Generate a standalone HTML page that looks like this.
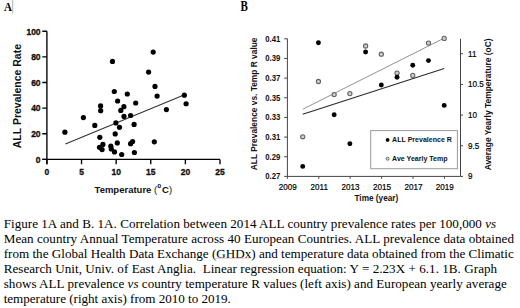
<!DOCTYPE html>
<html><head><meta charset="utf-8"><style>
html,body{margin:0;padding:0;background:#fff;}
body{width:520px;height:308px;overflow:hidden;}
svg{display:block;}
text{font-family:"Liberation Sans",sans-serif;}
.lab{font-family:"Liberation Serif",serif;font-weight:bold;font-size:11px;}
.at{font-weight:bold;font-size:8.5px;fill:#111;stroke:#111;stroke-width:0.3px;}
.atitle{font-weight:bold;font-size:9.5px;fill:#111;}
.aytitle{font-weight:bold;font-size:10.5px;fill:#111;}
.bt{font-weight:bold;font-size:7.8px;fill:#111;}
.br{font-size:8.1px;fill:#000;stroke:#000;stroke-width:0.18px;}
.btitle{font-weight:bold;font-size:8.25px;fill:#111;}
.bytitle{font-weight:bold;font-size:8.37px;fill:#111;}
.bytitle2{font-weight:bold;font-size:8.44px;fill:#111;}
.leg{font-weight:bold;font-size:7.05px;fill:#111;}
.cap{font-family:"Liberation Serif",serif;font-size:13.1px;fill:#000;}
</style></head><body>
<svg width="520" height="308" viewBox="0 0 520 308">
<text transform="translate(4 10.5) scale(1.0 1.22)" class="lab">A</text>
<line x1="12.7" y1="0" x2="12.7" y2="13.3" stroke="#b0b0b0" stroke-width="1"/>
<path d="M46.9 31.2V164.2M42.3 159.4H220" stroke="#000" stroke-width="1.35" fill="none"/>
<text transform="translate(40.6 162.7) scale(1.0 1.17)" class="at" text-anchor="end">0</text>
<text transform="translate(40.6 137.06) scale(1.0 1.17)" class="at" text-anchor="end">20</text>
<text transform="translate(40.6 111.42) scale(1.0 1.17)" class="at" text-anchor="end">40</text>
<text transform="translate(40.6 85.78) scale(1.0 1.17)" class="at" text-anchor="end">60</text>
<text transform="translate(40.6 60.14) scale(1.0 1.17)" class="at" text-anchor="end">80</text>
<text transform="translate(40.6 34.5) scale(1.0 1.17)" class="at" text-anchor="end">100</text>
<text transform="translate(46.9 175) scale(1.0 1.15)" class="at" text-anchor="middle">0</text>
<text transform="translate(81.52 175) scale(1.0 1.15)" class="at" text-anchor="middle">5</text>
<text transform="translate(116.14 175) scale(1.0 1.15)" class="at" text-anchor="middle">10</text>
<text transform="translate(150.76 175) scale(1.0 1.15)" class="at" text-anchor="middle">15</text>
<text transform="translate(185.38 175) scale(1.0 1.15)" class="at" text-anchor="middle">20</text>
<text transform="translate(220 175) scale(1.0 1.15)" class="at" text-anchor="middle">25</text>
<path d="M42.3 159.4H46.9M42.3 133.76H46.9M42.3 108.12H46.9M42.3 82.48H46.9M42.3 56.84H46.9M42.3 31.2H46.9M46.9 159.4V164.2M81.52 159.4V164.2M116.14 159.4V164.2M150.76 159.4V164.2M185.38 159.4V164.2M220 159.4V164.2" stroke="#000" stroke-width="1.35" fill="none"/>
<text transform="translate(133.3 193.3) scale(1.0 1.05)" class="atitle" text-anchor="middle">Temperature <tspan font-weight="normal">(</tspan><tspan font-size="6.5" dx="0.2" dy="-4.7">o</tspan><tspan dx="0.7" dy="4.7">C</tspan><tspan font-weight="normal">)</tspan></text>
<text transform="translate(21.2 96.1) rotate(-90)" class="aytitle" text-anchor="middle">ALL Prevalence Rate</text>
<line x1="65.4" y1="143.94" x2="183.9" y2="95.01" stroke="#333" stroke-width="1.1"/>
<circle cx="64.9" cy="132.2" r="2.6"/>
<circle cx="83.4" cy="117.6" r="2.6"/>
<circle cx="94.8" cy="125.4" r="2.6"/>
<circle cx="100.6" cy="105.9" r="2.6"/>
<circle cx="100.7" cy="110.7" r="2.6"/>
<circle cx="99.8" cy="137.3" r="2.6"/>
<circle cx="102.9" cy="144.4" r="2.6"/>
<circle cx="99.5" cy="147.3" r="2.6"/>
<circle cx="102.1" cy="149.6" r="2.6"/>
<circle cx="114.3" cy="91.5" r="2.6"/>
<circle cx="127.3" cy="94" r="2.6"/>
<circle cx="117.6" cy="101" r="2.6"/>
<circle cx="135.7" cy="103" r="2.6"/>
<circle cx="123.9" cy="106.7" r="2.6"/>
<circle cx="120.8" cy="110.4" r="2.6"/>
<circle cx="124" cy="116.4" r="2.6"/>
<circle cx="130.6" cy="115.5" r="2.6"/>
<circle cx="115.9" cy="122.9" r="2.6"/>
<circle cx="119.5" cy="127.3" r="2.6"/>
<circle cx="134.1" cy="124.4" r="2.6"/>
<circle cx="115.2" cy="133.9" r="2.6"/>
<circle cx="117.3" cy="142.9" r="2.6"/>
<circle cx="110.8" cy="146.2" r="2.6"/>
<circle cx="111.3" cy="149" r="2.6"/>
<circle cx="114.5" cy="151.9" r="2.6"/>
<circle cx="121.7" cy="154.5" r="2.6"/>
<circle cx="132.6" cy="141.5" r="2.6"/>
<circle cx="130.6" cy="143.7" r="2.6"/>
<circle cx="134.4" cy="152.5" r="2.6"/>
<circle cx="112.5" cy="61.4" r="2.6"/>
<circle cx="153.2" cy="52.1" r="2.6"/>
<circle cx="148.6" cy="72.1" r="2.6"/>
<circle cx="155" cy="86.4" r="2.6"/>
<circle cx="157.1" cy="96.1" r="2.6"/>
<circle cx="166.4" cy="109.6" r="2.6"/>
<circle cx="184.3" cy="95.2" r="2.6"/>
<circle cx="186.1" cy="103.75" r="2.6"/>
<circle cx="154.3" cy="141.8" r="2.6"/>
<text transform="translate(240.4 10.7) scale(1.0 1.25)" class="lab">B</text>
<text transform="translate(280.4 179.3) scale(1.0 1.1)" class="bt" text-anchor="end">0.27</text>
<text transform="translate(280.4 159.64) scale(1.0 1.1)" class="bt" text-anchor="end">0.29</text>
<text transform="translate(280.4 139.98) scale(1.0 1.1)" class="bt" text-anchor="end">0.31</text>
<text transform="translate(280.4 120.32) scale(1.0 1.1)" class="bt" text-anchor="end">0.33</text>
<text transform="translate(280.4 100.66) scale(1.0 1.1)" class="bt" text-anchor="end">0.35</text>
<text transform="translate(280.4 81) scale(1.0 1.1)" class="bt" text-anchor="end">0.37</text>
<text transform="translate(280.4 61.34) scale(1.0 1.1)" class="bt" text-anchor="end">0.39</text>
<text transform="translate(280.4 41.68) scale(1.0 1.1)" class="bt" text-anchor="end">0.41</text>
<text transform="translate(287.8 190.1) scale(1.0 1.1)" class="br" text-anchor="middle">2009</text>
<text transform="translate(319.2 190.1) scale(1.0 1.1)" class="br" text-anchor="middle">2011</text>
<text transform="translate(350.6 190.1) scale(1.0 1.1)" class="br" text-anchor="middle">2013</text>
<text transform="translate(382 190.1) scale(1.0 1.1)" class="br" text-anchor="middle">2015</text>
<text transform="translate(413.4 190.1) scale(1.0 1.1)" class="br" text-anchor="middle">2017</text>
<text transform="translate(444.8 190.1) scale(1.0 1.1)" class="br" text-anchor="middle">2019</text>
<text transform="translate(468 179.2) scale(1.0 1.1)" class="br">9</text>
<text transform="translate(468 148.54) scale(1.0 1.1)" class="br">9.5</text>
<text transform="translate(468 117.88) scale(1.0 1.1)" class="br">10</text>
<text transform="translate(468 87.22) scale(1.0 1.1)" class="br">10.5</text>
<text transform="translate(468 56.56) scale(1.0 1.1)" class="br">11</text>
<path d="M287.4 38.7V176.4H460.5V38.9M284.2 176.4H287.4M284.2 156.74H287.4M284.2 137.08H287.4M284.2 117.42H287.4M284.2 97.76H287.4M284.2 78.1H287.4M284.2 58.44H287.4M284.2 38.78H287.4M287.4 176.4V178.8M318.8 176.4V178.8M350.2 176.4V178.8M381.6 176.4V178.8M413 176.4V178.8M444.4 176.4V178.8M460.5 176.4H463M460.5 145.74H463M460.5 115.08H463M460.5 84.42H463M460.5 53.76H463" stroke="#444" stroke-width="1" fill="none"/>
<text transform="translate(376.4 200.9) scale(1.0 1.02)" class="btitle" text-anchor="middle">Time (year)</text>
<text transform="translate(257.3 103.85) rotate(-90) scale(1.0 1.05)" class="bytitle" text-anchor="middle">ALL Prevalence vs. Temp R value</text>
<text transform="translate(490.5 104.4) rotate(-90) scale(1.0 1.05)" class="bytitle2" text-anchor="middle">Average Yearly Temperature (oC)</text>
<line x1="302.72" y1="109.26" x2="444.2" y2="38.1" stroke="#929292" stroke-width="1"/>
<line x1="302.72" y1="114.15" x2="444.2" y2="68.5" stroke="#2a2a2a" stroke-width="1.05"/>
<circle cx="302.72" cy="136.8" r="2.1" fill="#cfcfcf" stroke="#636363" stroke-width="1.1"/>
<circle cx="302.72" cy="166.4" r="2.45"/>
<circle cx="318.44" cy="81.5" r="2.1" fill="#cfcfcf" stroke="#636363" stroke-width="1.1"/>
<circle cx="318.44" cy="42.7" r="2.45"/>
<circle cx="334.16" cy="94.6" r="2.1" fill="#cfcfcf" stroke="#636363" stroke-width="1.1"/>
<circle cx="334.16" cy="114.7" r="2.45"/>
<circle cx="349.88" cy="93.6" r="2.1" fill="#cfcfcf" stroke="#636363" stroke-width="1.1"/>
<circle cx="349.88" cy="143.8" r="2.45"/>
<circle cx="365.6" cy="46" r="2.1" fill="#cfcfcf" stroke="#636363" stroke-width="1.1"/>
<circle cx="365.6" cy="52" r="2.45"/>
<circle cx="381.32" cy="54.2" r="2.1" fill="#cfcfcf" stroke="#636363" stroke-width="1.1"/>
<circle cx="381.32" cy="85" r="2.45"/>
<circle cx="397.04" cy="73.1" r="2.1" fill="#cfcfcf" stroke="#636363" stroke-width="1.1"/>
<circle cx="397.04" cy="77.3" r="2.45"/>
<circle cx="412.76" cy="75.4" r="2.1" fill="#cfcfcf" stroke="#636363" stroke-width="1.1"/>
<circle cx="412.76" cy="65.3" r="2.45"/>
<circle cx="428.48" cy="43.1" r="2.1" fill="#cfcfcf" stroke="#636363" stroke-width="1.1"/>
<circle cx="428.48" cy="60.6" r="2.45"/>
<circle cx="444.2" cy="38.4" r="2.1" fill="#cfcfcf" stroke="#636363" stroke-width="1.1"/>
<circle cx="444.2" cy="105.4" r="2.45"/>
<rect x="370.7" y="130.6" width="86.7" height="38.1" fill="#fff" stroke="#9a9a9a" stroke-width="1"/>
<circle cx="387.6" cy="139.9" r="1.9"/>
<text transform="translate(392.1 142.3) scale(1.0 1.1)" class="leg">ALL Prevalence R</text>
<circle cx="387.6" cy="158.7" r="1.55" fill="#d0d0d0" stroke="#666" stroke-width="0.9"/>
<text transform="translate(392.1 161.1) scale(1.0 1.1)" class="leg">Ave Yearly Temp</text>
<text x="3.7" y="227.5" class="cap" textLength="492.4" lengthAdjust="spacing">Figure 1A and B. 1A. Correlation between 2014 ALL country prevalence rates per 100,000 <tspan font-style='italic'>vs</tspan></text>
<text x="3.7" y="242.6" class="cap" textLength="510.3" lengthAdjust="spacing">Mean country Annual Temperature across 40 European Countries. ALL prevalence data obtained</text>
<text x="3.7" y="257.7" class="cap" textLength="510" lengthAdjust="spacing">from the Global Health Data Exchange (GHDx) and temperature data obtained from the Climatic</text>
<text x="3.7" y="272.7" class="cap" textLength="493.4" lengthAdjust="spacing">Research Unit, Univ. of East Anglia.  Linear regression equation: Y = 2.23X + 6.1. 1B. Graph</text>
<text x="3.7" y="287.9" class="cap" textLength="503.1" lengthAdjust="spacing">shows ALL prevalence <tspan font-style='italic'>vs</tspan> country temperature R values (left axis) and European yearly average</text>
<text x="3.7" y="302.7" class="cap" textLength="227.1" lengthAdjust="spacing">temperature (right axis) from 2010 to 2019.</text>
<path d="M214 258.6 l1 -0.8 l1 0.8 l1 -0.8 l1 0.8 l1 -0.8 l1 0.8 l1 -0.8 l1 0.8 l1 -0.8 l1 0.8 l1 -0.8 l1 0.8 l1 -0.8 l1 0.8 l1 -0.8 l1 0.8 l1 -0.8 l1 0.8 l1 -0.8 l1 0.8 l1 -0.8 l1 0.8 l1 -0.8 l1 0.8 l1 -0.8 l1 0.8 l1 -0.8 l1 0.8 l1 -0.8 l1 0.8 l1 -0.8 l1 0.8 l1 -0.8 l1 0.8 l1 -0.8 l1 0.8" stroke="#e8a0a0" stroke-width="0.6" fill="none"/>
</svg>
</body></html>
